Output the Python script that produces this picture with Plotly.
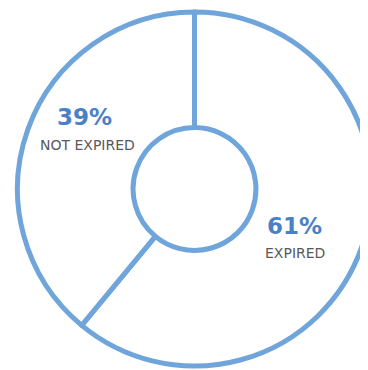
import plotly.graph_objects as go

labels = ["EXPIRED", "NOT EXPIRED"]
values = [61, 39]
pct_pos = [(0.7681, 0.3955), (0.2064, 0.7034)]   # paper coords of percent text
lab_pos = [(0.7694, 0.3192), (0.2131, 0.6243)]   # paper coords of label text

line_color = "#6FA5DA"
pct_color = "#4A80C6"
lab_color = "#595959"

W, H = 373, 362

fig = go.Figure(go.Pie(
    labels=labels,
    values=values,
    sort=False,
    direction="clockwise",
    rotation=0,
    hole=0.347,
    textinfo="none",
    hoverinfo="none",
    marker=dict(colors=["white", "white"], line=dict(color=line_color, width=5)),
    showlegend=False,
))

anns = []
for lab, val, (px, py), (lx, ly) in zip(labels, values, pct_pos, lab_pos):
    anns.append(dict(x=px, y=py, xref="paper", yref="paper", showarrow=False,
                     text=f"{val}%",
                     font=dict(family="DejaVu Sans", size=23, color=pct_color, weight="bold"),
                     xanchor="center", yanchor="middle"))
    anns.append(dict(x=lx, y=ly, xref="paper", yref="paper", showarrow=False,
                     text=lab, font=dict(family="DejaVu Sans", size=14, color=lab_color),
                     xanchor="center", yanchor="middle"))

fig.update_layout(
    width=W, height=H,
    margin=dict(l=0, r=0, t=4, b=4),
    paper_bgcolor="white",
    annotations=anns,
)

fig.write_html("out.html")
